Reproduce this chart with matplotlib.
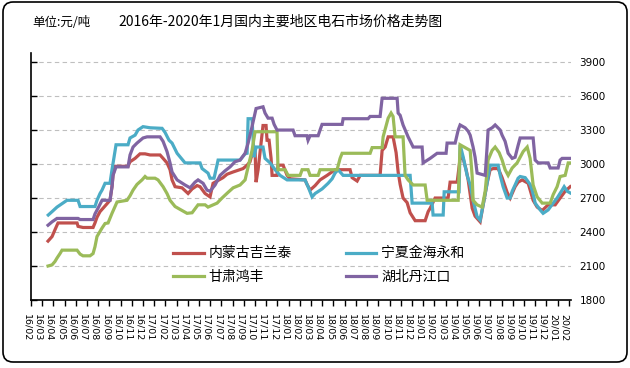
import matplotlib
matplotlib.use("Agg")
from matplotlib import pyplot as plt
from matplotlib import transforms
from matplotlib.patches import FancyBboxPatch

# x values: months since 2016-02 (0 = 16/02)
month_labels = ["%02d/%02d" % (16 + (1 + i) // 12, (1 + i) % 12 + 1) for i in range(49)]

t_nm = [1.52, 1.88, 2.14, 2.41, 4.11, 4.20, 4.64, 5.54, 5.71, 5.89, 6.16, 6.70, 7.05, 7.23, 7.32, 7.50,
        8.66, 8.84, 9.29, 9.73, 10.18, 10.63, 11.52, 11.79, 12.14, 12.41, 12.59, 12.86, 13.48, 14.02,
        14.38, 14.82, 15.09, 15.54, 15.98, 16.25, 17.14, 17.50, 18.04, 18.93, 19.29, 19.55, 19.82,
        20.0, 20.09, 20.27, 20.71, 20.98, 21.07, 21.25, 21.43, 21.52, 21.96, 22.05, 22.50, 22.86,
        23.13, 24.46, 24.64, 24.91, 25.36, 25.80, 26.43, 27.14, 28.48, 28.66, 29.11, 29.38, 31.16,
        31.34, 31.61, 31.88, 32.32, 32.59, 32.77, 32.95, 33.21, 33.57, 33.84, 34.29, 35.18, 35.45,
        35.63, 36.07, 37.23, 37.41, 38.04, 38.30, 38.57, 38.84, 39.02, 39.38, 39.64, 40.09, 40.36,
        40.71, 40.98, 41.25, 41.70, 42.05, 42.50, 42.77, 43.21, 43.48, 43.84, 44.38, 44.82, 45.18,
        45.63, 46.16, 46.79, 47.23, 47.68, 48.13]
v_nm = [2320, 2360, 2420, 2480, 2480, 2450, 2440, 2440, 2480, 2530, 2580, 2640, 2680, 2800, 2900, 2980,
        2980, 3020, 3050, 3090, 3090, 3080, 3080, 3050, 3010, 2950, 2860, 2800, 2790, 2740,
        2780, 2810, 2800, 2740, 2710, 2830, 2880, 2910, 2930, 2960, 2990, 3020, 3120,
        3120, 2840, 2950, 3340, 3340, 3210, 3210, 3050, 2900, 2900, 2990, 2990, 2900,
        2870, 2860, 2820, 2770, 2810, 2860, 2900, 2950, 2950, 2880, 2850, 2900, 2900,
        3120, 3150, 3240, 3240, 3100, 2930, 2820, 2700, 2660, 2570, 2500, 2500, 2580,
        2610, 2700, 2700, 2840, 2840, 3050, 3050, 2950, 2860, 2610, 2540, 2490, 2640,
        2830, 2950, 2960, 2960, 2880, 2750, 2700, 2800, 2840, 2860, 2830, 2680, 2620,
        2590, 2640, 2640, 2700, 2760, 2800]

t_nx = [1.54, 1.88, 2.32, 3.21, 4.20, 4.38, 5.71, 5.89, 6.16, 6.34, 6.61, 7.05, 7.23, 7.37, 7.59,
        8.66, 8.84, 9.29, 9.55, 10.0, 10.63, 11.70, 11.96, 12.32, 12.59, 13.04, 13.75, 15.09,
        15.27, 15.80, 15.98, 16.34, 16.70, 18.66, 19.11, 19.29, 19.38, 19.73, 19.91, 20.09,
        20.71, 20.89, 21.34, 21.79, 22.23, 22.86, 24.46, 24.73, 24.91, 25.09, 25.36, 25.98,
        26.52, 26.88, 27.14, 27.41, 27.86, 33.84, 34.02, 35.80, 35.89, 36.79, 36.88, 38.21,
        38.30, 38.57, 38.93, 39.20, 39.46, 39.82, 40.09, 40.36, 40.71, 40.98, 41.70, 41.88,
        42.14, 42.50, 42.77, 42.95, 43.21, 43.48, 43.66, 44.11, 44.55, 44.73, 44.91, 45.0,
        45.45, 45.71, 46.16, 46.61, 46.96, 47.41, 47.59, 47.86, 48.13]
v_nx = [2550, 2580, 2620, 2680, 2680, 2625, 2625, 2680, 2740, 2770, 2830, 2830, 2950, 3035, 3170,
        3170, 3230, 3255, 3300, 3330, 3320, 3315, 3280, 3210, 3185, 3095, 3010, 3010,
        2960, 2920, 2875, 2875, 3035, 3035, 3090, 3095, 3400, 3400, 3060, 3150,
        3150, 3050, 3010, 2950, 2900, 2860, 2860, 2800, 2755, 2710, 2740, 2780,
        2830, 2870, 2920, 2950, 2900, 2900, 2655, 2655, 2550, 2550, 2755, 2755,
        3170, 3065, 2900, 2815, 2680, 2535, 2505, 2640, 2830, 2990, 2990, 2900,
        2800, 2700, 2700, 2760, 2815, 2875, 2890, 2880, 2820, 2770, 2700, 2655,
        2595, 2565, 2595, 2655, 2700, 2770, 2800, 2760, 2745]

t_gs = [1.52, 1.88, 2.14, 2.32, 2.59, 2.77, 4.11, 4.38, 4.64, 5.27, 5.54, 5.71, 5.89, 6.34, 6.61,
        6.88, 7.23, 7.68, 8.57, 8.84, 9.11, 9.46, 9.91, 10.18, 10.36, 11.07, 11.34, 11.79, 12.14,
        12.41, 12.86, 13.30, 13.93, 14.38, 14.91, 15.54, 15.80, 16.61, 17.05, 17.59, 18.04,
        18.66, 19.11, 19.38, 19.73, 20.0, 21.96, 22.05, 22.68, 22.95, 24.02, 24.20, 24.73,
        24.91, 25.63, 25.80, 27.32, 27.59, 27.77, 30.27, 30.45, 31.34, 31.43, 31.88, 32.14,
        32.32, 32.50, 33.21, 33.39, 33.66, 34.11, 35.18, 35.36, 38.13, 38.30, 38.84, 39.20,
        39.38, 39.46, 39.82, 40.27, 40.54, 40.80, 41.16, 41.43, 41.79, 42.05, 42.32, 42.59,
        42.95, 43.39, 43.66, 43.93, 44.29, 44.55, 44.82, 45.18, 45.63, 46.34, 46.61, 46.96,
        47.23, 47.68, 47.95, 48.13]
v_gs = [2100, 2110, 2140, 2170, 2210, 2240, 2240, 2205, 2190, 2190, 2210, 2270, 2360, 2435, 2475,
        2480, 2565, 2665, 2680, 2720, 2770, 2820, 2860, 2890, 2875, 2875, 2860, 2800, 2740,
        2680, 2625, 2600, 2565, 2570, 2640, 2640, 2620, 2655, 2700, 2750, 2790,
        2815, 2860, 2975, 3120, 3285, 3285, 2950, 2950, 2900, 2900, 2950, 2950,
        2900, 2900, 2950, 2950, 3050, 3095, 3095, 3145, 3145, 3240, 3405, 3450,
        3420, 3240, 3240, 2900, 2860, 2815, 2815, 2680, 2680, 3170, 3140, 3120,
        2890, 2680, 2640, 2620, 2760, 3035, 3120, 3150, 3100, 3035, 2950, 2900,
        2965, 3010, 3060, 3110, 3150, 3050, 2815, 2710, 2655, 2655, 2730, 2800,
        2890, 2900, 3010, 3010]

t_hb = [1.52, 1.88, 2.32, 4.20, 4.38, 5.54, 5.71, 5.98, 6.34, 7.05, 7.23, 7.32, 7.59, 8.66, 8.84,
        9.11, 9.46, 10.0, 10.36, 11.52, 11.79, 12.14, 12.41, 12.59, 13.04, 13.75, 14.20, 14.64,
        14.91, 15.36, 15.71, 15.98, 16.43, 16.88, 17.32, 17.77, 18.21, 18.66, 19.11, 19.38,
        19.73, 20.0, 20.09, 20.71, 20.89, 21.16, 21.52, 21.70, 21.96, 23.39, 23.57, 24.64,
        24.73, 24.91, 25.63, 25.80, 25.98, 27.77, 27.86, 30.09, 30.27, 31.16, 31.34, 32.68,
        32.77, 32.95, 33.21, 33.66, 34.11, 34.91, 35.0, 35.63, 36.25, 37.05, 37.14, 37.86,
        38.13, 38.30, 38.75, 39.02, 39.20, 39.46, 39.64, 39.82, 40.54, 40.71, 40.80, 41.16,
        41.43, 41.88, 42.05, 42.32, 42.59, 42.95, 43.21, 43.48, 43.66, 44.82, 45.0, 45.27,
        46.16, 46.34, 47.05, 47.23, 47.41, 48.13]
v_hb = [2460, 2490, 2520, 2520, 2510, 2510, 2560, 2610, 2680, 2680, 2800, 2900, 2975, 2975, 3080,
        3150, 3185, 3230, 3240, 3240, 3200, 3110, 3010, 2930, 2860, 2815, 2790, 2840,
        2860, 2830, 2770, 2760, 2815, 2900, 2940, 2975, 3020, 3035, 3095, 3185,
        3330, 3450, 3490, 3505, 3450, 3405, 3405, 3350, 3300, 3300, 3250, 3250,
        3210, 3250, 3250, 3300, 3350, 3350, 3400, 3400, 3420, 3420, 3580, 3580,
        3450, 3430, 3345, 3240, 3150, 3150, 3010, 3050, 3095, 3095, 3185, 3185,
        3300, 3345, 3320, 3290, 3255, 3150, 3060, 2920, 2900, 3150, 3300, 3320,
        3345, 3300, 3255, 3200, 3095, 3050, 3060, 3165, 3230, 3230, 3035, 3010,
        3010, 2965, 2965, 3035, 3050, 3050]

series = [
    ("内蒙古吉兰泰", t_nm, v_nm, "#C0504D"),
    ("宁夏金海永和", t_nx, v_nx, "#4BACC6"),
    ("甘肃鸿丰", t_gs, v_gs, "#9BBB59"),
    ("湖北丹江口", t_hb, v_hb, "#8064A2"),
]

cjk = ["Noto Sans CJK SC", "DejaVu Sans"]

fig = plt.figure(figsize=(6.3, 3.68), dpi=100)
ax = fig.add_axes([31 / 630, 68 / 368, 540 / 630, 247 / 368])

lines = {}
for name, t, v, c in series:
    ln, = ax.plot(t, v, color=c, lw=2.3, label=name, solid_joinstyle="miter")
    lines[name] = ln

ax.set_xlim(0, 48.2)
ax.set_ylim(1800, 3980)
ax.set_yticks(range(1800, 4000, 300))
ax.yaxis.grid(True, color="#BFBFBF", linestyle=(0, (4, 3)), linewidth=0.8)
ax.set_axisbelow(True)

for s in ["top", "right"]:
    ax.spines[s].set_visible(False)
for s in ["left", "bottom"]:
    ax.spines[s].set_linewidth(1.2)

ax.tick_params(axis="y", left=True, right=False, labelleft=False, labelright=True,
               direction="in", length=4, width=1.0, labelsize=7.5, pad=6)
ax.set_xticks(range(49))
ax.set_xticklabels(month_labels, rotation=270, fontsize=6.8, va="top", ha="center")
ax.tick_params(axis="x", direction="out", length=4, width=1.0, pad=6)
shift = transforms.ScaledTranslation(-4 / 100, 0, fig.dpi_scale_trans)
for lab in ax.get_xticklabels():
    lab.set_transform(lab.get_transform() + shift)

order = ["内蒙古吉兰泰", "甘肃鸿丰", "宁夏金海永和", "湖北丹江口"]
ax.legend([lines[n] for n in order], order, ncol=2, frameon=False,
          loc="upper left", bbox_to_anchor=(0.263, 0.217),
          prop={"family": cjk, "size": 10}, handlelength=2.2, handletextpad=0.35,
          columnspacing=3.9, labelspacing=0.67, borderpad=0, borderaxespad=0)

fig.text(32 / 630, 1 - 22 / 368, "单位:元/吨", family=cjk, fontsize=9, va="center", ha="left")
fig.text(118 / 630, 1 - 22 / 368, "2016年-2020年1月国内主要地区电石市场价格走势图",
         family=cjk, fontsize=10, va="center", ha="left")

border = FancyBboxPatch((3 / 630, 6 / 368), 624 / 630, 360 / 368,
                        boxstyle="round,pad=0,rounding_size=0.016",
                        mutation_aspect=630 / 368,
                        transform=fig.transFigure, fill=False, ec="black", lw=1.2)
fig.patches.append(border)

fig.savefig("out.png", dpi=100)
